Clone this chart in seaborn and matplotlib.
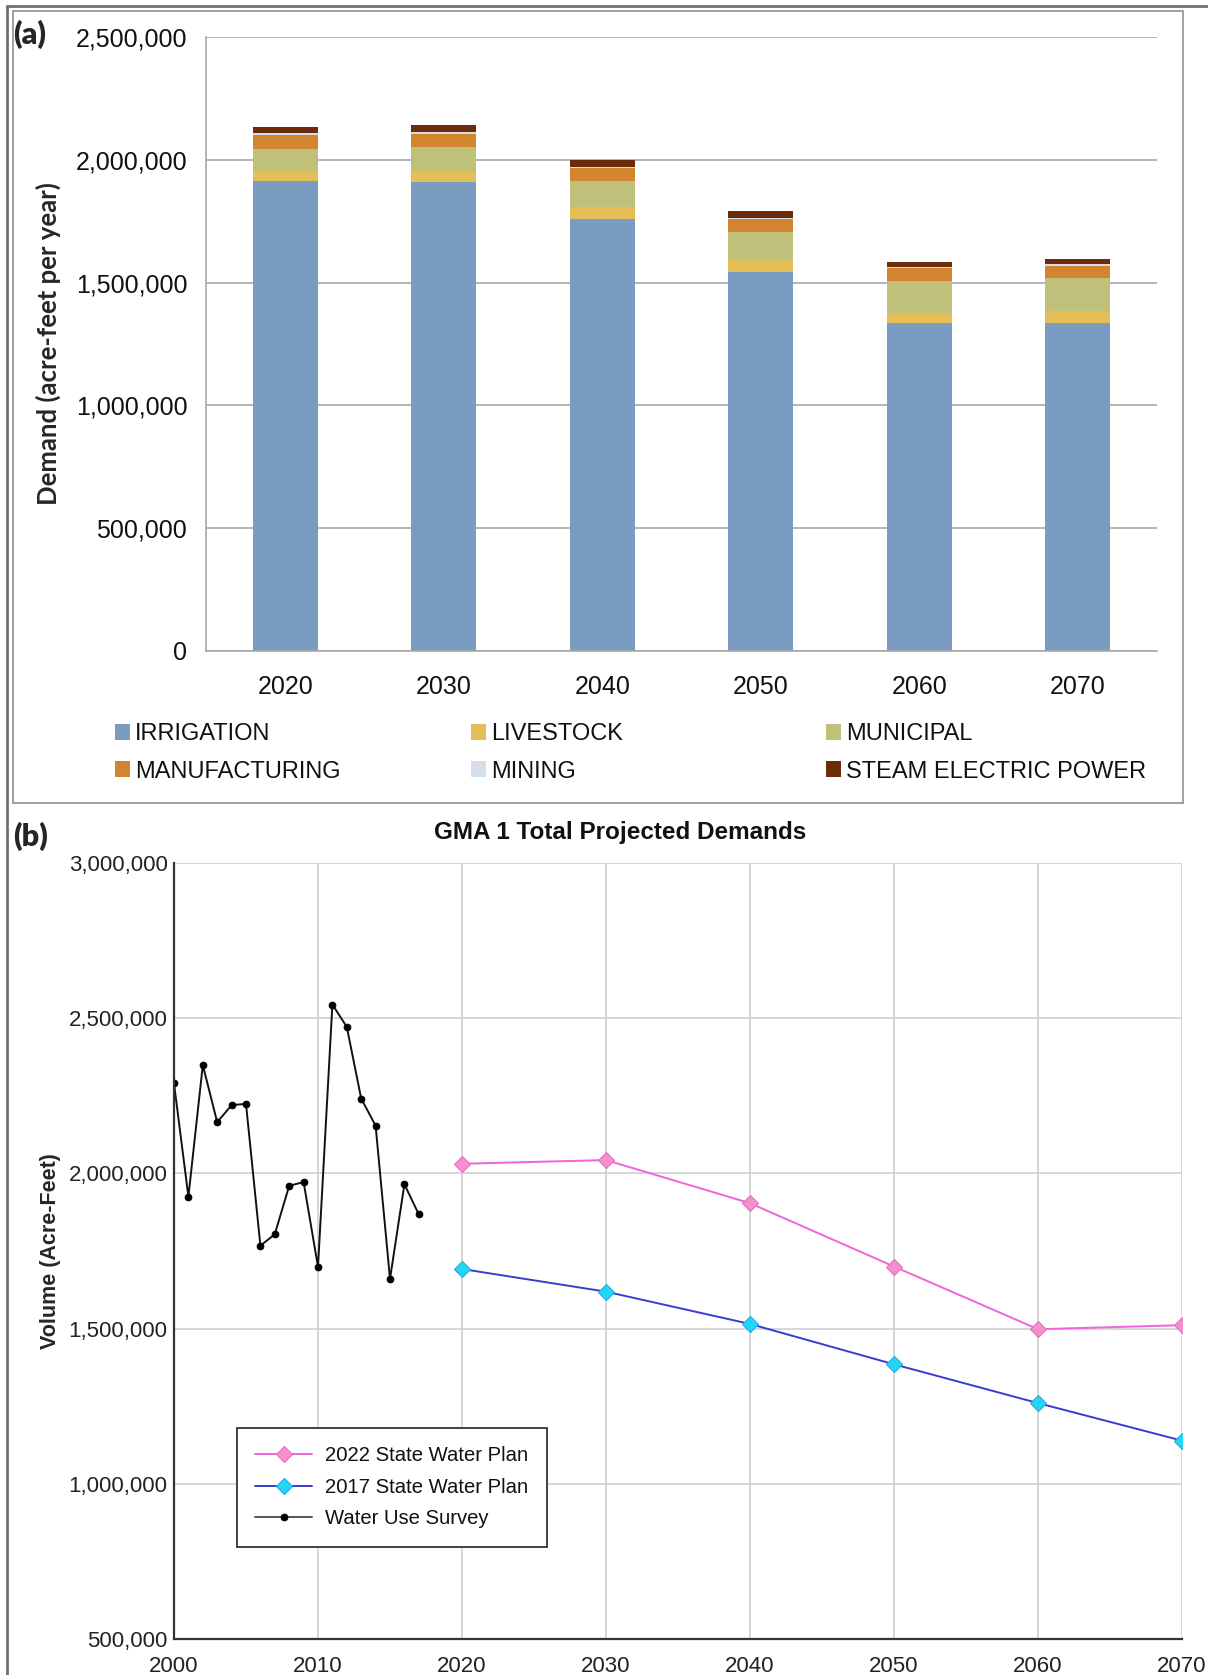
import numpy as np
import pandas as pd
import matplotlib
matplotlib.use("Agg")
import matplotlib.pyplot as plt
from matplotlib.patches import Patch, Rectangle
from matplotlib.lines import Line2D
from matplotlib.ticker import FuncFormatter, MultipleLocator
import seaborn as sns

# ---- Panel (a): projected demand by water-use category (acre-feet per year)
decades = ["2020", "2030", "2040", "2050", "2060", "2070"]
irrigation = [1913000, 1908000, 1760000, 1543000, 1335000, 1335000]
livestock = [41000, 46000, 46000, 48000, 43000, 48000]
municipal = [89000, 100000, 106000, 115000, 129000, 135000]
manufacturing = [56000, 53000, 53000, 51000, 53000, 51000]
mining = [11000, 7000, 7000, 7000, 5000, 6000]
steam_electric = [24000, 26000, 28000, 29000, 20000, 23000]

category_names = ["IRRIGATION", "LIVESTOCK", "MUNICIPAL",
                  "MANUFACTURING", "MINING", "STEAM ELECTRIC POWER"]
category_colors = ["#7A9CC0", "#E5BE58", "#BFC17B",
                   "#D3842F", "#D3DEE8", "#6B2C0B"]

# ---- Panel (b): total projected demands (acre-feet)
survey_years = list(range(2000, 2018))
survey_volume = [2290000, 1925000, 2349000, 2165000, 2220000, 2224000,
                 1767000, 1804000, 1960000, 1972000, 1699000, 2544000,
                 2472000, 2241000, 2154000, 1660000, 1965000, 1868000]
plan_years = [2020, 2030, 2040, 2050, 2060, 2070]
plan_2022 = [2031000, 2043000, 1904000, 1700000, 1498000, 1511000]
plan_2017 = [1692000, 1619000, 1515000, 1385000, 1260000, 1139000]

sns.set_style("white")
plt.rcParams["font.family"] = ["Liberation Sans", "DejaVu Sans"]

W, H = 1208, 1675
fig = plt.figure(figsize=(W / 100, H / 100), dpi=100)


def fx(px):
    return px / W


def fy(py):
    return 1 - py / H


comma = FuncFormatter(lambda v, p: f"{v:,.0f}")

# ================= Panel (a) =================
ax1 = fig.add_axes([fx(206), fy(651), fx(1157 - 206), (651 - 37) / H])

layers = [irrigation, livestock, municipal, manufacturing, mining, steam_electric]
stack = np.cumsum(np.array(layers, dtype=float), axis=0)
long_rows = []
for name, tops in zip(category_names, stack):
    for d, v in zip(decades, tops):
        long_rows.append({"decade": d, "category": name, "top": v})
df_a = pd.DataFrame(long_rows)

# cumulative tops drawn from the highest layer down so each band shows its share
for name, color in reversed(list(zip(category_names, category_colors))):
    sub = df_a[df_a["category"] == name]
    sns.barplot(data=sub, x="decade", y="top", order=decades, color=color,
                saturation=1, width=0.41, errorbar=None, linewidth=0, ax=ax1)

ax1.set_xlim(-0.5, 5.5)
ax1.set_ylim(0, 2500000)
ax1.yaxis.set_major_locator(MultipleLocator(500000))
ax1.yaxis.set_major_formatter(comma)
ax1.grid(axis="y", color="#A8A8A8", linewidth=1.2)
ax1.grid(axis="x", visible=False)
ax1.set_axisbelow(True)
for s in ["top", "right"]:
    ax1.spines[s].set_visible(False)
for s in ["left", "bottom"]:
    ax1.spines[s].set_color("#A8A8A8")
    ax1.spines[s].set_linewidth(1.2)
ax1.set_xticks(range(len(decades)))
ax1.set_xticklabels(decades)
ax1.set_xticks(np.arange(-0.5, 6.0, 1.0), minor=True)
ax1.tick_params(axis="x", which="major", length=0, pad=17, labelsize=18,
                labelcolor="#111111")
ax1.tick_params(axis="x", which="minor", length=7, width=1.2,
                color="#A8A8A8", direction="out")
ax1.tick_params(axis="y", which="major", length=6.5, width=1.2,
                color="#A8A8A8", direction="out", pad=7, labelsize=18,
                labelcolor="#111111")
ax1.set_xlabel("")
ax1.set_ylabel("Demand (acre-feet per year)", fontsize=18.5, fontweight="bold",
               family=["Lato", "DejaVu Sans"])
ax1.yaxis.set_label_coords((61 - 206) / (1157 - 206), 0.5)

handles = [Patch(facecolor=c, edgecolor="none") for c in category_colors]
col_x = [115, 471, 826]
for i in range(3):
    leg = fig.legend([handles[i], handles[i + 3]],
                     [category_names[i], category_names[i + 3]],
                     loc="upper left", bbox_to_anchor=(fx(col_x[i]), fy(723)),
                     frameon=False, fontsize=17, handlelength=0.65,
                     handleheight=0.65, handletextpad=0.2, borderpad=0,
                     borderaxespad=0, labelspacing=0.66)
    for t in leg.get_texts():
        t.set_color("#111111")

# ================= Panel (b) =================
ax2 = fig.add_axes([fx(174), fy(1639), fx(1182 - 174), (1639 - 863) / H])

sns.lineplot(x=plan_years, y=plan_2022, ax=ax2, color="#F064D8",
             linewidth=1.4, marker="D", markersize=8,
             markerfacecolor="#F590CC", markeredgecolor="#E070C8",
             markeredgewidth=0.8, label="2022 State Water Plan")
sns.lineplot(x=plan_years, y=plan_2017, ax=ax2, color="#3B3BD0",
             linewidth=1.4, marker="D", markersize=8,
             markerfacecolor="#22D6F5", markeredgecolor="#2AA8E0",
             markeredgewidth=0.8, label="2017 State Water Plan")
sns.lineplot(x=survey_years, y=survey_volume, ax=ax2, color="#111111",
             linewidth=1.4, marker="o", markersize=4.8,
             markerfacecolor="#000000", markeredgecolor="#000000",
             label="Water Use Survey")

ax2.set_xlim(2000, 2070)
ax2.set_ylim(500000, 3000000)
ax2.xaxis.set_major_locator(MultipleLocator(10))
ax2.xaxis.set_minor_locator(MultipleLocator(2))
ax2.yaxis.set_major_locator(MultipleLocator(500000))
ax2.yaxis.set_minor_locator(MultipleLocator(100000))
ax2.yaxis.set_major_formatter(comma)
ax2.grid(which="major", color="#CFCFCF", linewidth=1.2)
ax2.set_axisbelow(True)
for s in ["top", "right"]:
    ax2.spines[s].set_visible(False)
for s in ["left", "bottom"]:
    ax2.spines[s].set_color("#333333")
    ax2.spines[s].set_linewidth(1.6)
ax2.tick_params(which="major", direction="in", length=10, width=1.5,
                color="#333333", labelsize=16, labelcolor="#222222")
ax2.tick_params(which="minor", direction="in", length=5.5, width=1.3,
                color="#333333")
ax2.tick_params(axis="y", which="major", pad=4.5)
ax2.tick_params(axis="x", which="major", pad=12)
ax2.set_xlabel("")
ax2.set_ylabel("Volume (Acre-Feet)", fontsize=15.5, fontweight="bold")
ax2.yaxis.set_label_coords((61 - 174) / (1182 - 174), 0.5)

leg2 = ax2.legend(loc="upper left",
                  bbox_to_anchor=((237 - 174) / 1008, (1639 - 1428) / 776),
                  borderaxespad=0, fontsize=14.6, frameon=True, fancybox=False,
                  framealpha=1, edgecolor="#333333", handlelength=2.8,
                  handletextpad=0.65, borderpad=0.9, labelspacing=0.62)
leg2.get_frame().set_linewidth(1.3)
for t in leg2.get_texts():
    t.set_color("#111111")
for ln in leg2.get_lines():
    ln.set_linewidth(1.4)
leg2.get_lines()[2].set_color("#555555")

fig.text(fx(620), fy(833), "GMA 1 Total Projected Demands", ha="center",
         va="center", fontsize=17.5, fontweight="bold", color="#111111")

# ---- Panel letters and frames
fig.text(fx(13), fy(34), "(a)", ha="left", va="center", fontsize=22,
         fontweight="heavy", family=["Lato", "DejaVu Sans"])
fig.text(fx(13), fy(836), "(b)", ha="left", va="center", fontsize=22,
         fontweight="heavy", family=["Lato", "DejaVu Sans"])

fig.add_artist(Rectangle((fx(13), fy(803)), fx(1183 - 13), (803 - 11) / H,
                         transform=fig.transFigure, fill=False,
                         edgecolor="#A0A0A0", linewidth=1.4))
fig.add_artist(Line2D([fx(7), fx(1208)], [fy(6), fy(6)],
                      transform=fig.transFigure, color="#707070", linewidth=2))
fig.add_artist(Line2D([fx(7), fx(7)], [fy(6), fy(1675)],
                      transform=fig.transFigure, color="#707070", linewidth=2))

fig.savefig("out.png", dpi=100)
